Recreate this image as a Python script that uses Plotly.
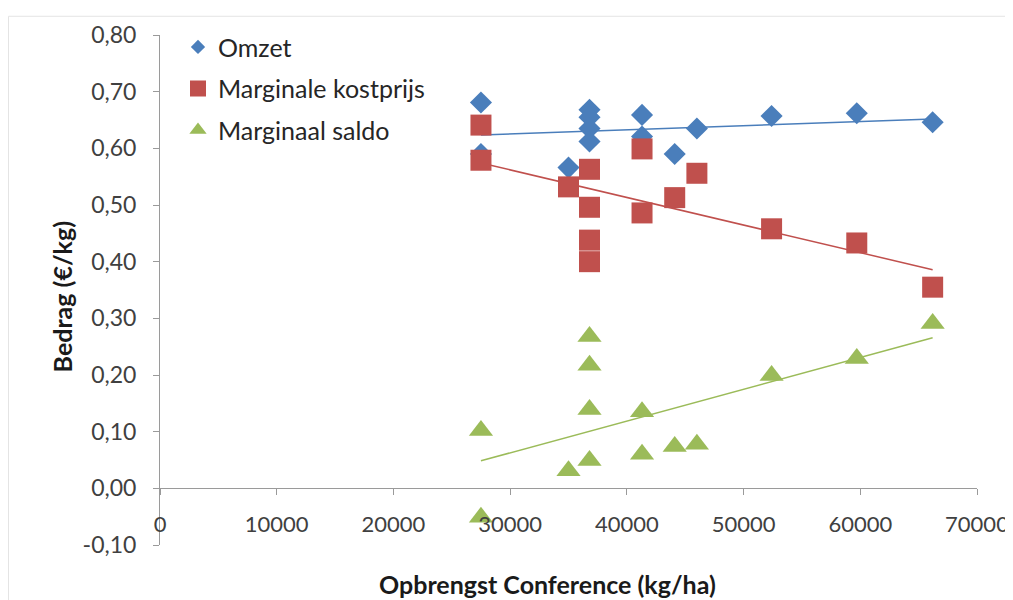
import numpy as np
import plotly.graph_objects as go

# Data
opbrengst = [27500, 27500, 35000, 36800, 36800, 36800, 36800, 41300, 41300, 44100, 46000, 52400, 59700, 66200]
omzet = [0.681, 0.590, 0.566, 0.668, 0.655, 0.635, 0.612, 0.659, 0.621, 0.590, 0.635, 0.657, 0.662, 0.646]
kostprijs = [0.579, 0.641, 0.532, 0.400, 0.438, 0.496, 0.563, 0.599, 0.486, 0.513, 0.556, 0.458, 0.433, 0.355]
saldo = [0.102, -0.051, 0.031, 0.268, 0.217, 0.139, 0.049, 0.060, 0.135, 0.074, 0.078, 0.199, 0.229, 0.291]

series_names = ["Omzet", "Marginale kostprijs", "Marginaal saldo"]
series_values = [omzet, kostprijs, saldo]
colors = ["#4A7EBB", "#C0504D", "#9BBB59"]
symbols = ["diamond", "square", "triangle-up"]
sizes = [17, 21, 21]
legend_sizes = [11, 16, 15]

y_ticks = [-0.1, 0.0, 0.1, 0.2, 0.3, 0.4, 0.5, 0.6, 0.7, 0.8]
y_ticktext = [f"{v:.2f}".replace(".", ",") for v in y_ticks]
x_ticks = [0, 10000, 20000, 30000, 40000, 50000, 60000, 70000]

FONT = "Lato"
fig = go.Figure()

xs = np.array(opbrengst, dtype=float)
xline = np.array([xs.min(), xs.max()])
for name, vals, col in zip(series_names, series_values, colors):
    k, b = np.polyfit(xs, np.array(vals), 1)
    fig.add_trace(go.Scatter(x=xline, y=k * xline + b, mode="lines",
                             line=dict(color=col, width=1.5), showlegend=False,
                             hoverinfo="skip"))

for name, vals, col, sym, sz in zip(series_names, series_values, colors, symbols, sizes):
    fig.add_trace(go.Scatter(x=opbrengst, y=vals, mode="markers", name=name,
                             marker=dict(symbol=sym, size=sz, color=col,
                                         line=dict(width=0)),
                             showlegend=False))

for i, (name, col, sym, sz) in enumerate(zip(series_names, colors, symbols, legend_sizes)):
    fig.add_trace(go.Scatter(x=[None], y=[None], mode="markers", name=name,
                             legendgroup=f"g{i}",
                             marker=dict(symbol=sym, size=sz, color=col, line=dict(width=0))))

# page has an 8px body margin: figure is offset by 8px; extra width keeps the
# last x tick label inside the figure
W, H = 1013, 592
L, T = 152, 20
PW, PH = 817, 517
ymin, ymax = -0.1, 0.8


def px_x(page_x):
    return (page_x - 160) / PW


def px_y(page_y):
    return (545 - page_y) / PH


fig.update_layout(
    width=W, height=H,
    margin=dict(l=L, r=W - L - PW, t=T, b=H - T - PH),
    paper_bgcolor="white", plot_bgcolor="white",
    font=dict(family=FONT, size=23, color="#404040"),
    showlegend=True,
    legend=dict(x=px_x(178), y=px_y(17), xanchor="left", yanchor="top",
                bgcolor="rgba(0,0,0,0)", font=dict(size=25, color="#262626"),
                itemwidth=30, tracegroupgap=6, traceorder="grouped"),
    xaxis=dict(range=[0, 70000], tickvals=x_ticks, ticktext=[str(v) for v in x_ticks],
               showgrid=False, zeroline=False, showline=True, linecolor="#9a9a9a",
               linewidth=1, ticks="outside", ticklen=6, tickcolor="#9a9a9a",
               anchor="free", position=(0 - ymin) / (ymax - ymin),
               ticklabelstandoff=10, tickfont=dict(size=22, color="#404040")),
    yaxis=dict(range=[ymin, ymax], tickvals=y_ticks, ticktext=y_ticktext,
               showgrid=False, zeroline=False, showline=True, linecolor="#9a9a9a",
               linewidth=1, ticks="outside", ticklen=6, tickcolor="#9a9a9a",
               ticklabelstandoff=12, tickfont=dict(size=23, color="#404040")),
    annotations=[
        dict(text="<b>Opbrengst Conference (kg/ha)</b>", xref="paper", yref="paper",
             x=px_x(547), y=px_y(585), xanchor="center", yanchor="middle",
             showarrow=False, font=dict(size=25, color="#1a1a1a", family=FONT)),
        dict(text="<b>Bedrag (€/kg)</b>", xref="paper", yref="paper",
             x=px_x(62), y=px_y(294), xanchor="center", yanchor="middle",
             textangle=-90, showarrow=False, font=dict(size=25, color="#1a1a1a", family=FONT)),
    ],
    shapes=[dict(type="rect", xref="paper", yref="paper",
                 x0=px_x(8.5), x1=px_x(1030),
                 y0=px_y(620), y1=px_y(9),
                 line=dict(color="#e4e4e4", width=1), fillcolor="rgba(0,0,0,0)", layer="below")],
)

fig.write_html("out.html")
